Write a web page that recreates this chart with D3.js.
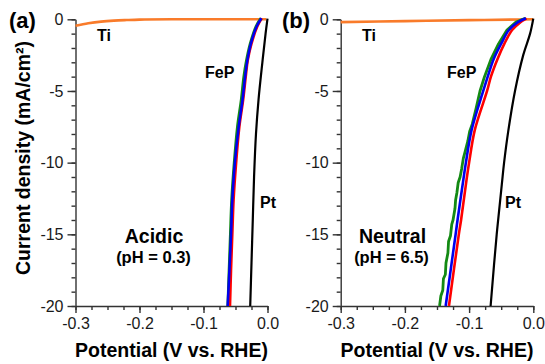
<!doctype html>
<html>
<head>
<meta charset="UTF-8">
<title>HER polarization</title>
<script src="https://d3js.org/d3.v7.min.js"></script>
<style>
  body { margin: 0; background: #fff; }
  svg text { font-family: "Liberation Sans", Arial, sans-serif; }
  .axis path, .axis line { stroke: #333; stroke-width: 1.4; }
  .axis text { font-size: 16px; fill: #1a1a1a; }
</style>
</head>
<body>
<script>
// tick labels
var xMajor = [-0.3, -0.2, -0.1, 0.0];
var yMajor = [-20, -15, -10, -5, 0];
var xMinor = d3.range(-0.3, 0.0001, 0.025);
var yMinor = d3.range(-20, 0.5, 1);

// panel (a), acidic : [potential V, current mA/cm2]
var tiA  = [[-0.3,-0.45],[-0.28,-0.28],[-0.26,-0.16],[-0.24,-0.09],[-0.22,-0.05],[-0.2,-0.02],[-0.15,0],[-0.002,0]];
var ptA  = [[0.0,0.05],[-0.003,-1],[-0.008,-3],[-0.014,-5.6],[-0.018,-8],[-0.021,-11],[-0.023,-14],[-0.025,-17],[-0.027,-20]];
var fepGreenA = [[-0.0105,0.07],[-0.018,-0.5],[-0.027,-1.7],[-0.033,-2.9],[-0.037,-4],[-0.041,-5.6],[-0.047,-7.5],[-0.052,-10],[-0.056,-12.6],[-0.058,-15],[-0.060,-17.5],[-0.062,-20]];
var fepRedA   = [[-0.009,0.07],[-0.016,-0.5],[-0.025,-1.7],[-0.031,-2.9],[-0.034,-4],[-0.038,-5.6],[-0.044,-7.5],[-0.049,-10],[-0.053,-12.6],[-0.055,-15],[-0.057,-17.5],[-0.0586,-20]];
var fepBlueA  = [[-0.0095,0.07],[-0.017,-0.5],[-0.026,-1.7],[-0.0316,-2.9],[-0.035,-4],[-0.039,-5.6],[-0.045,-7.5],[-0.051,-10],[-0.055,-12.6],[-0.057,-15],[-0.0595,-17.5],[-0.0622,-20]];

// panel (b), neutral
var tiB  = [[-0.3,-0.2],[-0.2,-0.13],[-0.1,-0.06],[-0.02,-0.01],[0.0,0]];
var ptB  = [[0.0,0.05],[-0.005,-1],[-0.0157,-2.5],[-0.0285,-5],[-0.039,-7.8],[-0.0455,-10],[-0.049,-11.5],[-0.057,-15],[-0.0665,-20]];
var fepGreenB = [[-0.0125,0.07],[-0.027,-0.2],[-0.041,-0.75],[-0.054,-1.7],[-0.066,-2.8],[-0.076,-4],[-0.083,-5],[-0.089,-6.2],[-0.095,-7.3],[-0.099,-7.8],[-0.102,-8.5],[-0.106,-9.2],[-0.109,-9.7],[-0.1115,-10.4],[-0.114,-11],[-0.117,-11.4],[-0.119,-12.1],[-0.121,-12.6],[-0.122,-13.2],[-0.125,-14],[-0.127,-14.3],[-0.129,-15.1],[-0.132,-15.5],[-0.133,-16.3],[-0.136,-17],[-0.137,-17.8],[-0.140,-18.1],[-0.141,-18.9],[-0.144,-19.3],[-0.146,-20]];
var fepRedB   = [[-0.0105,0.07],[-0.020,-0.2],[-0.033,-0.75],[-0.045,-1.7],[-0.056,-2.8],[-0.066,-4],[-0.072,-5],[-0.091,-7.7],[-0.100,-10],[-0.104,-11.2],[-0.1125,-14],[-0.116,-15],[-0.1314,-20]];
var fepBlueB  = [[-0.0115,0.07],[-0.024,-0.2],[-0.038,-0.75],[-0.050,-1.7],[-0.062,-2.8],[-0.071,-4],[-0.078,-5],[-0.096,-7.7],[-0.105,-10],[-0.109,-11.2],[-0.118,-14],[-0.121,-15],[-0.1365,-20]];

var svg = d3.select("body").append("svg")
  .attr("width", 545)
  .attr("height", 364);

var panel = function(opt) {
  var x = d3.scaleLinear().domain([-0.3, 0]).range([opt.left, opt.right]);
  var y = d3.scaleLinear().domain([-20, 0]).range([306, 19.3]);
  var smooth = d3.line().curve(d3.curveCatmullRom)
    .x(function(d) { return x(d[0]); }).y(function(d) { return y(d[1]); });
  var rough = d3.line()
    .x(function(d) { return x(d[0]); }).y(function(d) { return y(d[1]); });

  var g = svg.append("g");

  // minor ticks
  g.append("g").attr("class", "axis").attr("transform", "translate(0,306)")
    .call(d3.axisBottom(x).tickValues(xMinor).tickSize(4).tickFormat(""))
    .select(".domain").remove();
  g.append("g").attr("class", "axis").attr("transform", "translate(" + opt.left + ",0)")
    .call(d3.axisLeft(y).tickValues(yMinor).tickSize(4).tickFormat(""))
    .select(".domain").remove();

  // major ticks
  g.append("g").attr("class", "axis").attr("transform", "translate(0,306)")
    .call(d3.axisBottom(x).tickValues(xMajor).tickSize(7).tickSizeOuter(0).tickPadding(5)
      .tickFormat(function(d) { return d.toFixed(1); }));
  g.append("g").attr("class", "axis").attr("transform", "translate(" + opt.left + ",0)")
    .call(d3.axisLeft(y).tickValues(yMajor).tickSize(8).tickSizeOuter(0).tickPadding(4)
      .tickFormat(function(d) { return d; }));

  // curves
  var curves = [
    [opt.ti, "#f97b2a", 2.6, smooth],
    [opt.pt, "#000", 2.2, smooth],
    [opt.green, "#138a13", 2.8, opt.greenRough ? rough : smooth],
    [opt.red, "#ff0000", 2.6, smooth],
    [opt.blue, "#0000ee", 2.6, smooth]
  ];
  g.selectAll("path.curve").data(curves).enter().append("path")
    .attr("class", "curve")
    .attr("d", function(d) { return d[3](d[0]); })
    .attr("fill", "none")
    .attr("stroke", function(d) { return d[1]; })
    .attr("stroke-width", function(d) { return d[2]; })
    .attr("stroke-linejoin", "round");

  // labels
  g.append("text").attr("x", opt.tag[0]).attr("y", 28)
    .attr("font-size", 22).attr("font-weight", "bold").text(opt.tag[1]);
  g.append("text").attr("x", (opt.left + opt.right) / 2).attr("y", 357)
    .attr("text-anchor", "middle").attr("font-size", 19.5).attr("font-weight", "bold")
    .text("Potential (V vs. RHE)");

  opt.notes.forEach(function(n) {
    g.append("text").attr("x", n[0]).attr("y", n[1])
      .attr("text-anchor", n[4] || "start")
      .attr("font-size", n[3]).attr("font-weight", "bold").text(n[2]);
  });
};

panel({
  left: 75.5, right: 267.5, tag: [9, "(a)"],
  ti: tiA, pt: ptA, green: fepGreenA, red: fepRedA, blue: fepBlueA,
  notes: [
    [97, 41, "Ti", 16], [205, 78, "FeP", 16], [260, 208, "Pt", 16],
    [154, 243, "Acidic", 19.5, "middle"], [153.5, 263, "(pH = 0.3)", 16.5, "middle"]
  ]
});

panel({
  left: 340.7, right: 533.3, tag: [282, "(b)"],
  ti: tiB, pt: ptB, green: fepGreenB, red: fepRedB, blue: fepBlueB, greenRough: true,
  notes: [
    [362, 41, "Ti", 16], [447, 78, "FeP", 16], [505, 208, "Pt", 16],
    [392.5, 243, "Neutral", 19.5, "middle"], [391.5, 263, "(pH = 6.5)", 16.5, "middle"]
  ]
});

// y axis title
svg.append("text")
  .attr("transform", "translate(30,158) rotate(-90)")
  .attr("text-anchor", "middle").attr("font-size", 19.5).attr("font-weight", "bold")
  .text("Current density (mA/cm\u00B2)");
</script>
</body>
</html>
